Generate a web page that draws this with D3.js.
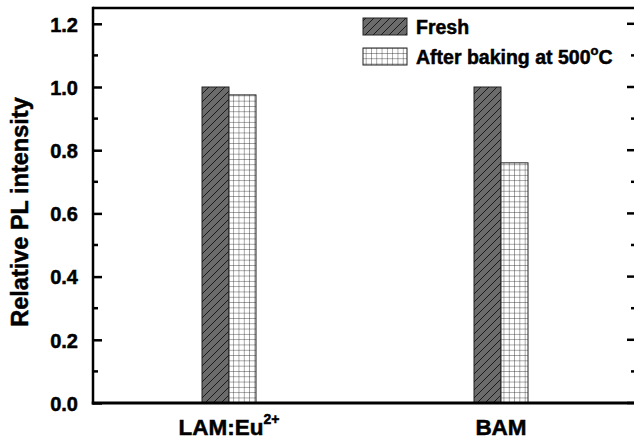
<!DOCTYPE html>
<html>
<head>
<meta charset="utf-8">
<script src="https://cdn.jsdelivr.net/npm/d3@7"></script>
<style>
  html, body { margin: 0; padding: 0; background: #fff; }
  svg { display: block; font-family: Arial, "Liberation Sans", sans-serif; font-weight: bold; }
  .lbl { stroke: #000; stroke-width: 0.5; paint-order: stroke; }
</style>
</head>
<body>
<svg id="chart" width="634" height="441"></svg>
<script>
// Samples and the two measured series
const categories = ["LAM:Eu", "BAM"];
const categorySup = ["2+", ""];
const seriesNames = ["Fresh", "After baking at 500"];
const freshValues = [1.0, 1.0];
const bakedValues = [0.975, 0.76];
const yTicks = [0.0, 0.2, 0.4, 0.6, 0.8, 1.0, 1.2];
const yMinorTicks = [0.1, 0.3, 0.5, 0.7, 0.9, 1.1];

const svg = d3.select("#chart");
const margin = { left: 93, top: 8, right: 637, bottom: 403 };

const x = d3.scaleBand().domain(categories).range([margin.left, margin.right]).padding(0);
const y = d3.scaleLinear().domain([0, 1.25]).range([margin.bottom, margin.top]);
const barW = 27;

// Fill patterns: hatched grey and fine grid
const defs = svg.append("defs");
const hatch = defs.append("pattern").attr("id", "hatch").attr("patternUnits", "userSpaceOnUse")
  .attr("width", 8).attr("height", 8);
hatch.append("rect").attr("width", 8).attr("height", 8).attr("fill", "#6b6b6b");
hatch.append("path").attr("d", "M-2,2 L2,-2 M0,8 L8,0 M6,10 L10,6")
  .attr("stroke", "#111").attr("stroke-width", 0.9);

const grid = defs.append("pattern").attr("id", "grid").attr("patternUnits", "userSpaceOnUse")
  .attr("width", 5.3).attr("height", 5.3);
grid.append("rect").attr("width", 5.3).attr("height", 5.3).attr("fill", "#fff");
grid.append("path").attr("d", "M0,0 L5.3,0 M0,0 L0,5.3")
  .attr("stroke", "#222").attr("stroke-width", 0.8);

// Bars
const g = svg.append("g");
categories.forEach((c, i) => {
  const cx = x(c) + x.bandwidth() / 2;
  g.append("rect")
    .attr("x", cx - barW).attr("y", y(freshValues[i]))
    .attr("width", barW).attr("height", y(0) - y(freshValues[i]))
    .attr("fill", "url(#hatch)").attr("stroke", "#222").attr("stroke-width", 1);
  g.append("rect")
    .attr("x", cx).attr("y", y(bakedValues[i]))
    .attr("width", barW).attr("height", y(0) - y(bakedValues[i]))
    .attr("fill", "url(#grid)").attr("stroke", "#222").attr("stroke-width", 1);
});

// Left axis with inward ticks
const yAxis = svg.append("g").attr("transform", `translate(${margin.left},0)`)
  .call(d3.axisRight(y).tickValues(yTicks).tickSize(9).tickFormat(d3.format(".1f")));
yAxis.select(".domain").remove();
yAxis.selectAll(".tick line").attr("stroke", "#000").attr("stroke-width", 2.5);
yAxis.selectAll(".tick text").attr("x", -15).attr("dy", "0.36em").attr("text-anchor", "end")
  .attr("class", "lbl")
  .attr("font-size", 20).attr("font-weight", "bold").attr("fill", "#000")
  .attr("font-family", "Arial, 'Liberation Sans', sans-serif");
svg.append("g").attr("transform", `translate(${margin.left},0)`)
  .selectAll("line").data(yMinorTicks).join("line")
  .attr("x1", 0).attr("x2", 5).attr("y1", d => y(d)).attr("y2", d => y(d))
  .attr("stroke", "#000").attr("stroke-width", 2.5);

// Right axis ticks, pointing inward
svg.append("g").selectAll("line").data(yTicks).join("line")
  .attr("x1", margin.right - 10).attr("x2", margin.right).attr("y1", d => y(d)).attr("y2", d => y(d))
  .attr("stroke", "#000").attr("stroke-width", 2.5);
svg.append("g").selectAll("line").data(yMinorTicks).join("line")
  .attr("x1", margin.right - 6).attr("x2", margin.right).attr("y1", d => y(d)).attr("y2", d => y(d))
  .attr("stroke", "#000").attr("stroke-width", 2.5);

// Frame
svg.append("line").attr("x1", margin.left).attr("x2", 640).attr("y1", margin.top).attr("y2", margin.top)
  .attr("stroke", "#000").attr("stroke-width", 2.5);
svg.append("line").attr("x1", margin.left).attr("x2", margin.left).attr("y1", margin.top - 1.25).attr("y2", margin.bottom + 1.5)
  .attr("stroke", "#000").attr("stroke-width", 2.5);
svg.append("line").attr("x1", margin.left - 1.25).attr("x2", 640).attr("y1", margin.bottom).attr("y2", margin.bottom)
  .attr("stroke", "#000").attr("stroke-width", 3);

// Category labels
categories.forEach((c, i) => {
  const cx = x(c) + x.bandwidth() / 2;
  const t = svg.append("text").attr("class", "lbl").attr("x", cx).attr("y", 435).attr("text-anchor", "middle")
    .attr("font-size", 22.5).attr("font-weight", "bold").attr("fill", "#000");
  t.append("tspan").text(c);
  if (categorySup[i]) {
    t.append("tspan").attr("dy", -11).attr("font-size", 14).text(categorySup[i]);
  }
});

// Y axis title
svg.append("text").attr("class", "lbl").attr("transform", "translate(28,212) rotate(-90)").attr("text-anchor", "middle")
  .attr("font-size", 23.5).attr("font-weight", "bold").attr("fill", "#000").text("Relative PL intensity");

// Legend
const legend = svg.append("g");
const legendFills = ["url(#hatch)", "url(#grid)"];
seriesNames.forEach((s, i) => {
  const ly = 18 + i * 30;
  legend.append("rect").attr("x", 363).attr("y", ly).attr("width", 44).attr("height", 17)
    .attr("fill", legendFills[i]).attr("stroke", "#222").attr("stroke-width", 1);
  const t = legend.append("text").attr("class", "lbl").attr("x", 416).attr("y", ly + 16)
    .attr("font-size", 19.5).attr("font-weight", "bold").attr("fill", "#000");
  t.append("tspan").text(s);
  if (i === 1) {
    t.append("tspan").attr("dy", -9).attr("font-size", 13).text("o");
    t.append("tspan").attr("dy", 9).text("C");
  }
});
</script>
</body>
</html>
